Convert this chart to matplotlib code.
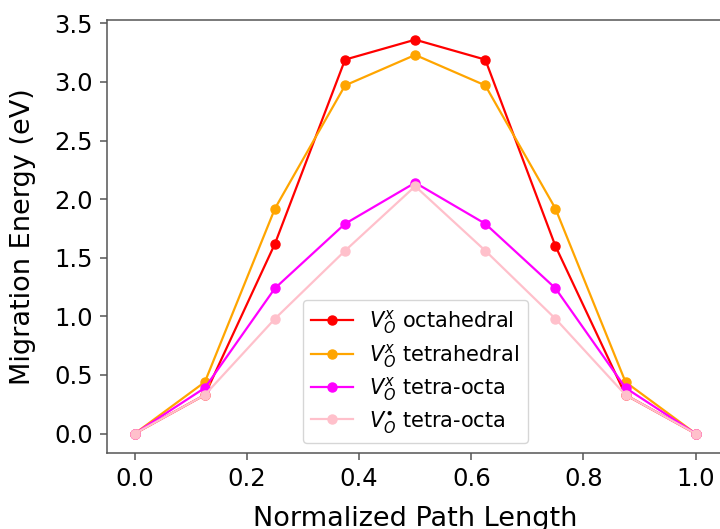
import numpy as np
import matplotlib
matplotlib.use("Agg")
import matplotlib.pyplot as plt

# normalized path positions (9 images along the path)
path = [0.0, 0.125, 0.25, 0.375, 0.5, 0.625, 0.75, 0.875, 1.0]

# migration energies (eV)
octahedral = [0.0, 0.33, 1.62, 3.19, 3.36, 3.19, 1.60, 0.33, 0.0]
tetrahedral = [0.0, 0.44, 1.92, 2.97, 3.23, 2.97, 1.92, 0.44, 0.0]
tetra_octa_x = [0.0, 0.39, 1.24, 1.79, 2.14, 1.79, 1.24, 0.39, 0.0]
tetra_octa_dot = [0.0, 0.33, 0.98, 1.56, 2.11, 1.56, 0.98, 0.33, 0.0]

labels = [r"$V_O^x$ octahedral", r"$V_O^x$ tetrahedral",
          r"$V_O^x$ tetra-octa", r"$V_O^{\bullet}$ tetra-octa"]
series = [octahedral, tetrahedral, tetra_octa_x, tetra_octa_dot]
cols = ["red", "orange", "magenta", "pink"]

fig = plt.figure(figsize=(7.2, 5.29), dpi=100)
# the reference is a crop: right spine and part of the x label fall off the image
ax = fig.add_axes([0.1482, 0.1431, 0.8569, 0.8191])

for y, lab, c in zip(series, labels, cols):
    ax.plot(path, y, "-o", color=c, label=lab, lw=1.6, ms=6.5)

ax.set_xlabel("Normalized Path Length", fontsize=19.5, labelpad=11)
ax.set_ylabel("Migration Energy (eV)", fontsize=19.5, labelpad=13)
ax.set_xticks([0.0, 0.2, 0.4, 0.6, 0.8, 1.0])
ax.set_yticks(np.arange(0, 3.6, 0.5))
ax.tick_params(labelsize=17.5, length=5, pad=5, width=1.1, color="#555555")
for s in ax.spines.values():
    s.set_color("#555555")
    s.set_linewidth(1.1)
ax.legend(loc="lower center", fontsize=15, labelspacing=0.26)

fig.savefig("out.png", dpi=100)
